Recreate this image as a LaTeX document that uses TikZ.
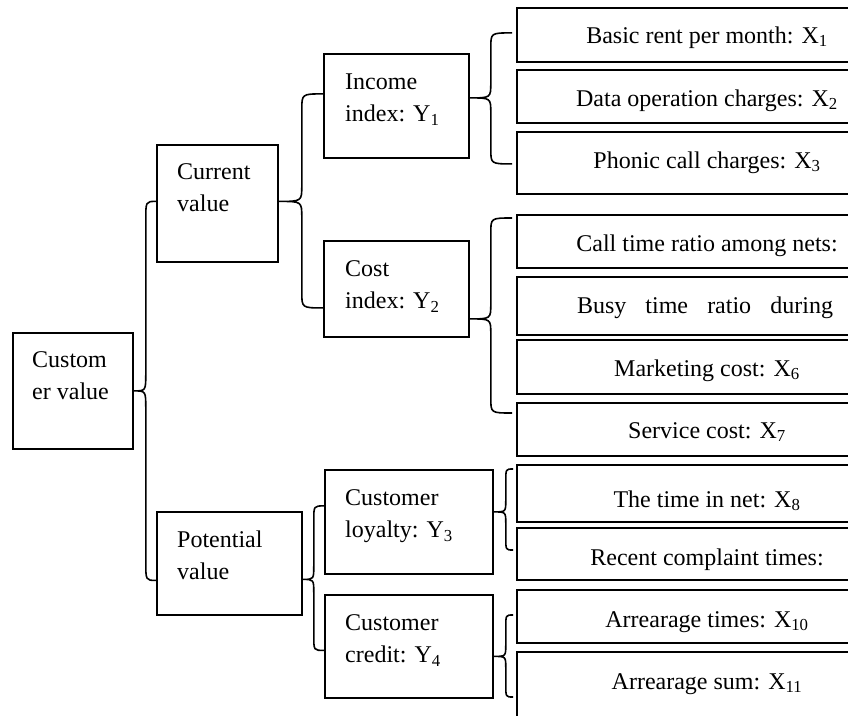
\documentclass[tikz,border=0pt]{standalone}
\usepackage{fontspec}
\setmainfont{Liberation Serif}
\usetikzlibrary{calc}
\tikzset{
  bx/.style={draw, line width=1.8pt, inner sep=0pt, anchor=north west},
  brc/.style={draw, line width=1.6pt},
  lbl/.style={anchor=north west, inner sep=0pt, align=left, font=\fontsize{24}{32}\selectfont},
  rt/.style={anchor=base, inner sep=0pt, font=\fontsize{24}{32}\selectfont},
}
% #1 tip, #2 top end, #3 bottom end, #4 horizontal offset of the spine from the tip, #5 radius
\newcommand\curly[5]{%
  \draw[brc] let \p1=#1, \p2=#2, \p3=#3 in
    (\p2) .. controls (\x1+#4,\y2) .. (\x1+#4,\y2-#5)
    -- (\x1+#4,\y1+#5) .. controls (\x1+#4,\y1) .. (\p1)
    .. controls (\x1+#4,\y1) .. (\x1+#4,\y1-#5)
    -- (\x1+#4,\y3+#5) .. controls (\x1+#4,\y3) .. (\p3);}
\begin{document}
\begin{tikzpicture}[x=1pt,y=-1pt]
\useasboundingbox (0,0) rectangle (848,715);
\clip (0,0) rectangle (848,715);
% left-hand boxes
\node[bx, minimum width=120pt, minimum height=116pt] (root) at (12,332) {};
\node[bx, minimum width=121pt, minimum height=117pt] (cur)  at (156,144) {};
\node[bx, minimum width=145pt, minimum height=103pt] (pot)  at (156,511) {};
\node[bx, minimum width=145pt, minimum height=104pt] (inc)  at (323,53) {};
\node[bx, minimum width=145pt, minimum height=96pt]  (cost) at (323,240) {};
\node[bx, minimum width=168pt, minimum height=104pt] (loy)  at (324,469) {};
\node[bx, minimum width=168pt, minimum height=103pt] (cred) at (324,594) {};
% right-hand boxes
\node[bx, minimum width=382pt, minimum height=54pt] (xa) at (516,7) {};
\node[bx, minimum width=382pt, minimum height=53pt] (xb) at (516,69) {};
\node[bx, minimum width=382pt, minimum height=62pt] (xc) at (516,131) {};
\node[bx, minimum width=382pt, minimum height=53pt] (xd) at (516,214) {};
\node[bx, minimum width=382pt, minimum height=58pt] (xe) at (516,276) {};
\node[bx, minimum width=382pt, minimum height=54pt] (xf) at (516,339) {};
\node[bx, minimum width=382pt, minimum height=53pt] (xg) at (516,402) {};
\node[bx, minimum width=382pt, minimum height=57pt] (xh) at (516,464) {};
\node[bx, minimum width=382pt, minimum height=52pt] (xi) at (516,527) {};
\node[bx, minimum width=382pt, minimum height=53pt] (xj) at (516,589) {};
\node[bx, minimum width=382pt, minimum height=80pt] (xk) at (516,651) {};
% left labels
\node[lbl] (rootT) at ($(root.north west)+(20,13)$) {\strut Custom\\\strut er value};
\node[lbl] (curT)  at ($(cur.north west)+(21,13)$)  {\strut Current\\\strut value};
\node[lbl] (potT)  at ($(pot.north west)+(21,14)$)  {\strut Potential\\\strut value};
\node[lbl] (incT)  at ($(inc.north west)+(22,14)$)  {\strut Income\\\strut index: Y\textsubscript{1}};
\node[lbl] (costT) at ($(cost.north west)+(22,14)$) {\strut Cost\\\strut index: Y\textsubscript{2}};
\node[lbl] (loyT)  at ($(loy.north west)+(21,14)$)  {\strut Customer\\\strut loyalty: Y\textsubscript{3}};
\node[lbl] (credT) at ($(cred.north west)+(21,14)$) {\strut Customer\\\strut credit: Y\textsubscript{4}};
% right labels
\node[rt] (ta) at (707,43)  {Basic rent per month: X\textsubscript{1}};
\node[rt] (tb) at (707,106) {Data operation charges: X\textsubscript{2}};
\node[rt] (tc) at (707,168) {Phonic call charges: X\textsubscript{3}};
\node[rt] (td) at (707,251) {Call time ratio among nets:};
\node[rt] (te) at (705,313) {\makebox[256pt][s]{Busy time ratio during}};
\node[rt] (tf) at (707,376) {Marketing cost: X\textsubscript{6}};
\node[rt] (tg) at (707,438) {Service cost: X\textsubscript{7}};
\node[rt] (th) at (707,507) {The time in net: X\textsubscript{8}};
\node[rt] (ti) at (707,565) {Recent complaint times:};
\node[rt] (tj) at (707,627) {Arrearage times: X\textsubscript{10}};
\node[rt] (tk) at (707,689) {Arrearage sum: X\textsubscript{11}};
% braces
\curly{(root.east)}{($(cur.west)+(0,-2)$)}{($(pot.west)+(0,17)$)}{12pt}{18pt}
\curly{($(cur.east)+(0,-2)$)}{($(inc.west)+(0,-12)$)}{($(cost.west)+(0,19)$)}{23pt}{16pt}
\curly{($(inc.east)+(0,-8)$)}{($(xa.west)+(-4,-2)$)}{($(xc.west)+(-4,1)$)}{21pt}{15pt}
\curly{($(cost.east)+(0,30)$)}{($(xd.north west)+(-4,4)$)}{($(xg.north west)+(-4,11)$)}{21pt}{15pt}
\curly{($(pot.east)+(0,16)$)}{($(loy.west)+(0,-16)$)}{($(cred.west)+(0,4)$)}{11pt}{14pt}
\curly{($(loy.east)+(0,-10)$)}{($(xh.north west)+(-3,5)$)}{($(xi.north west)+(-3,23)$)}{12pt}{12pt}
\curly{($(cred.east)+(0,10)$)}{($(xj.north west)+(-3,26)$)}{($(xk.north west)+(-3,46)$)}{12pt}{12pt}
\end{tikzpicture}
\end{document}
